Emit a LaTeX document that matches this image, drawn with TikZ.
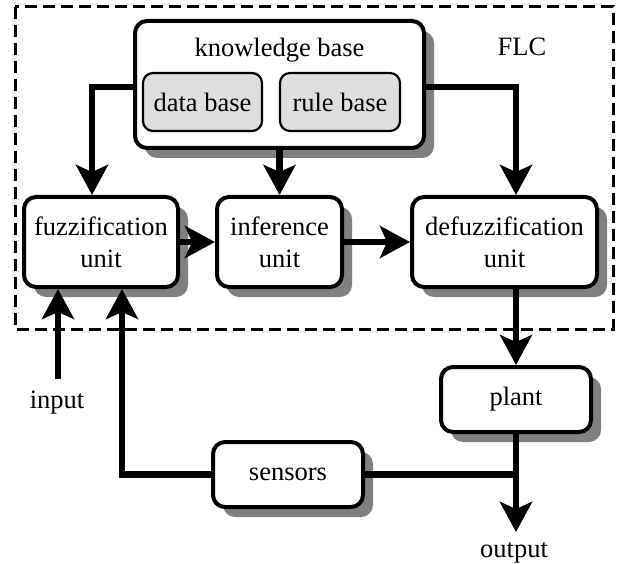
\documentclass[tikz,border=0pt]{standalone}
\usepackage{fontspec}
\setmainfont{Liberation Serif}
\usetikzlibrary{shadows,arrows.meta,calc}
\begin{document}
\begin{tikzpicture}[x=1pt,y=-1pt,
  every node/.style={font=\fontsize{26.5}{32}\selectfont},
  unitbox/.style={draw,line width=4pt,rounded corners=12pt,fill=white,align=center,inner sep=0pt,
    drop shadow={shadow xshift=10pt,shadow yshift=-10pt,fill=black!50,opacity=1}},
  subbox/.style={draw,line width=2.2pt,rounded corners=10pt,fill=black!13,inner sep=0pt},
  conn/.style={line width=6.5pt,-{Stealth[length=30pt,width=32pt,inset=7pt]}},
  plain/.style={line width=6.5pt},
  lbl/.style={inner sep=0pt}]
\useasboundingbox (0,0) rectangle (618,564);
\draw[line width=3pt,dash pattern=on 12pt off 6pt] (15,7) rectangle (613,329);
\node[lbl] (flc) at (522,47) {FLC};
% knowledge base
\node[unitbox,minimum width=289pt,minimum height=127pt] (kb) at (279.5,84.5) {};
\node[lbl] (kbt) at (279.5,50) {knowledge base};
\node[subbox,minimum width=119pt,minimum height=58pt] (db) at (202.5,102) {data base};
\node[subbox,minimum width=120pt,minimum height=58pt] (rb) at (340,102) {rule base};
% units
\node[unitbox,minimum width=154pt,minimum height=90pt] (fuzz) at (101,242) {fuzzification\\unit};
\node[unitbox,minimum width=125pt,minimum height=90pt] (inf) at (279.5,242) {inference\\unit};
\node[unitbox,minimum width=185pt,minimum height=90pt] (defuzz) at (504.5,242) {defuzzification\\unit};
\node[unitbox,minimum width=150pt,minimum height=65pt] (plant) at (516,399.5) {plant};
\node[unitbox,minimum width=150pt,minimum height=65pt] (sensors) at (288,474.5) {sensors};
% labels
\node[lbl] (input) at (57,403) {input};
\node[lbl] (output) at (514,553) {output};
\coordinate (inp) at (58,379);
\coordinate (outp) at (516,532);
% connectors
\draw[conn] ([yshift=-2.5pt]kb.west) -| ([xshift=-9pt]fuzz.north);
\draw[conn] ([yshift=-2.5pt]kb.east) -| ([xshift=11.5pt]defuzz.north);
\draw[conn] (kb.south) -- (inf.north);
\draw[conn] (fuzz.east) -- (inf.west);
\draw[conn] (inf.east) -- (defuzz.west);
\draw[conn] ([xshift=11.5pt]defuzz.south) -- (plant.north);
\draw[conn] (plant.south) -- (outp);
\draw[plain] (sensors.east) -- (sensors.east -| plant.south);
\draw[conn] (sensors.west) -| ([xshift=21pt]fuzz.south);
\draw[conn] (inp) -- ([xshift=-43pt]fuzz.south);
\end{tikzpicture}
\end{document}
